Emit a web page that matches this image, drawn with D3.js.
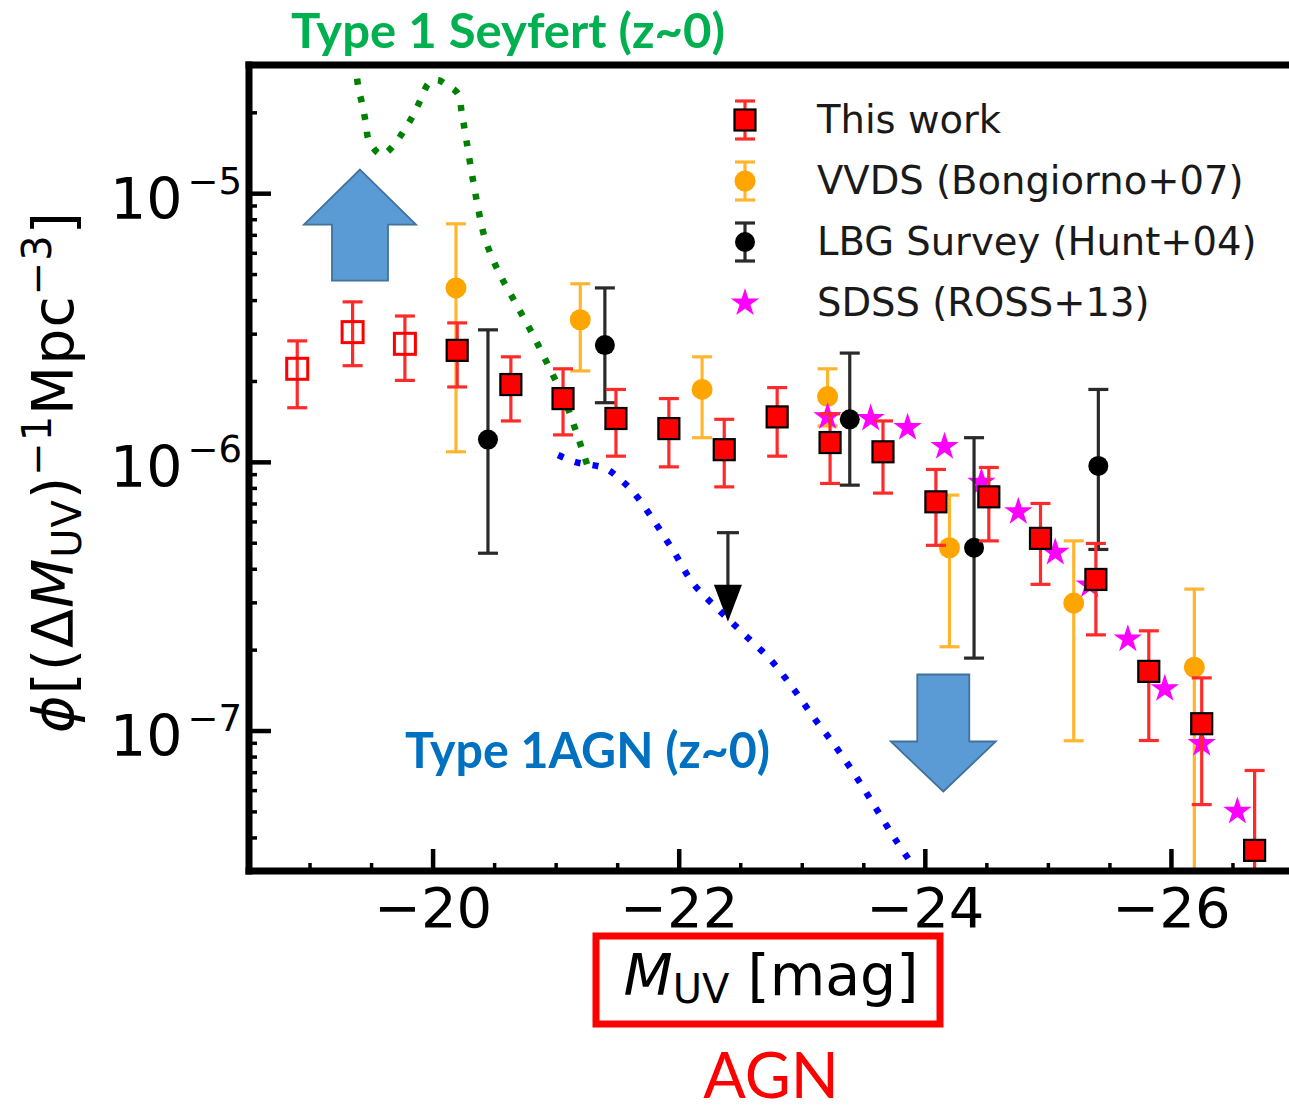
<!DOCTYPE html>
<html><head><meta charset="utf-8">
<script src="https://cdn.jsdelivr.net/npm/d3@7"></script>
<style>body{margin:0;background:#fff;} svg{display:block;}</style>
</head><body><svg id="c" width="1289" height="1112"></svg>
<script>
// ---------------- DATA ----------------
// This work (red squares); first three are open (incomplete) bins
const thisWorkM   = [-18.90,-19.35,-19.775,-20.20,-20.636,-21.06,-21.49,-21.92,-22.37,-22.80,-23.23,-23.66,-24.09,-24.52,-24.94,-25.39,-25.82,-26.25,-26.68];
const thisWorkPhi = [2.22e-6,3.04e-6,2.75e-6,2.60e-6,1.94e-6,1.72e-6,1.45e-6,1.33e-6,1.11e-6,1.47e-6,1.18e-6,1.09e-6,7.10e-7,7.41e-7,5.19e-7,3.65e-7,1.66e-7,1.06e-7,3.58e-8];
const thisWorkHi  = [2.82e-6,3.94e-6,3.49e-6,3.29e-6,2.46e-6,2.22e-6,1.86e-6,1.72e-6,1.44e-6,1.89e-6,1.51e-6,1.42e-6,9.37e-7,9.53e-7,7.00e-7,4.97e-7,2.35e-7,1.57e-7,7.10e-8];
const thisWorkLo  = [1.59e-6,2.28e-6,2.01e-6,1.90e-6,1.42e-6,1.26e-6,1.05e-6,9.58e-7,8.07e-7,1.05e-6,8.31e-7,7.65e-7,4.89e-7,5.08e-7,3.50e-7,2.27e-7,9.18e-8,5.30e-8,1.0e-8];
const thisWorkOpen = [1,1,1,0,0,0,0,0,0,0,0,0,0,0,0,0,0,0,0];

// VVDS (Bongiorno+07)
const vvdsM   = [-20.19,-21.20,-22.19,-23.21,-24.20,-25.21,-26.19];
const vvdsPhi = [4.44e-6,3.38e-6,1.86e-6,1.75e-6,4.79e-7,2.98e-7,1.72e-7];
const vvdsHi  = [7.69e-6,4.60e-6,2.46e-6,2.22e-6,7.52e-7,5.08e-7,3.36e-7];
const vvdsLo  = [1.09e-6,2.18e-6,1.23e-6,1.36e-6,2.05e-7,9.16e-8,1.0e-8];

// LBG Survey (Hunt+04)
const lbgM   = [-20.45,-21.40,-23.39,-24.40,-25.41];
const lbgPhi = [1.21e-6,2.72e-6,1.44e-6,4.79e-7,9.66e-7];
const lbgHi  = [3.10e-6,4.44e-6,2.54e-6,1.23e-6,1.86e-6];
const lbgLo  = [4.57e-7,1.66e-6,8.19e-7,1.86e-7,4.72e-7];
const lbgUpperM = [-22.40];
const lbgUpperPhi = [5.45e-7];
const lbgUpperTip = [2.54e-7];

// SDSS (ROSS+13)
const sdssM   = [-23.21,-23.56,-23.86,-24.16,-24.46,-24.76,-25.06,-25.34,-25.65,-25.95,-26.25,-26.54];
const sdssPhi = [1.47e-6,1.45e-6,1.34e-6,1.14e-6,8.38e-7,6.52e-7,4.60e-7,3.48e-7,2.19e-7,1.43e-7,8.93e-8,5.00e-8];

// Type 1 Seyfert (z~0) curve
const seyfertM   = [-19.373,-19.396,-19.431,-19.458,-19.485,-19.586,-19.680,-19.767,-19.842,-19.905,-19.970,-20.039,-20.114,-20.208,-20.236,-20.262,-20.309,-20.362,-20.425,-20.533,-20.677,-20.817,-20.953,-21.075,-21.178,-21.272];
const seyfertPhi = [3.11e-5,2.48e-5,2.12e-5,1.82e-5,1.56e-5,1.39e-5,1.50e-5,1.71e-5,1.95e-5,2.24e-5,2.57e-5,2.64e-5,2.53e-5,2.34e-5,2.00e-5,1.71e-5,1.26e-5,9.21e-6,6.80e-6,5.13e-6,3.88e-6,2.96e-6,2.22e-6,1.69e-6,1.25e-6,9.27e-7];

// Type 1 AGN (z~0) curve
const agnM   = [-21.020,-21.156,-21.405,-21.522,-21.630,-21.800,-21.963,-22.117,-22.326,-22.537,-22.752,-22.937,-23.108,-23.284,-23.449,-23.606,-23.762,-23.918];
const agnPhi = [1.06e-6,1.00e-6,9.45e-7,8.62e-7,7.73e-7,6.02e-7,4.61e-7,3.53e-7,2.81e-7,2.27e-7,1.82e-7,1.42e-7,1.10e-7,8.60e-8,6.66e-8,5.11e-8,3.92e-8,3.08e-8];

// axis ticks
const xMajorTicks = [-20,-22,-24,-26];
const yMajorTicks = [1e-7,1e-6,1e-5];
const yTickExponents = ["−7","−6","−5"];
const legendLabels = ["This work","VVDS (Bongiorno+07)","LBG Survey (Hunt+04)","SDSS (ROSS+13)"];

// annotation block arrows (tip position in data space)
const blockArrowM = [-19.41,-24.15];
const blockArrowPhi = [1.224e-5,5.93e-8];
const blockArrowDir = ["up","down"];

// ---------------- DRAW ----------------
const svg = d3.select("#c");
const X0 = 248, X1 = 1294, Y0 = 871, Y1 = 65;
const x = d3.scaleLinear().domain([-18.5,-27]).range([X0,X1]);
const y = d3.scaleLog().domain([3e-8,3e-5]).range([Y0,Y1]);

svg.append("defs").append("clipPath").attr("id","pc").append("rect")
  .attr("x",X0+1).attr("y",Y1).attr("width",X1-X0).attr("height",Y0-Y1);

const plot = svg.append("g").attr("clip-path","url(#pc)");

// curves
const lineGen = d3.line().x(d=>x(d[0])).y(d=>y(d[1])).curve(d3.curveCatmullRom.alpha(0.5));
plot.append("path").datum(seyfertM.map((m,i)=>[m,seyfertPhi[i]]))
  .attr("d",lineGen).attr("fill","none").attr("stroke","#008000")
  .attr("stroke-width",6.5).attr("stroke-dasharray","6 12");
plot.append("path").datum(agnM.map((m,i)=>[m,agnPhi[i]]))
  .attr("d",lineGen).attr("fill","none").attr("stroke","#0000ff")
  .attr("stroke-width",6.5).attr("stroke-dasharray","6 12");

function errbars(g, M, P, lo, hi, color, capW, sw){
  const d = M.map((m,i)=>({m, p:P[i], lo:lo[i], hi:hi[i]}));
  g.selectAll(null).data(d).join("line")
    .attr("x1",d=>x(d.m)).attr("x2",d=>x(d.m))
    .attr("y1",d=>y(d.hi)).attr("y2",d=>y(d.lo))
    .attr("stroke",color).attr("stroke-width",sw);
  ["hi","lo"].forEach(k=>{
    g.selectAll(null).data(d).join("line")
      .attr("x1",d=>x(d.m)-capW/2).attr("x2",d=>x(d.m)+capW/2)
      .attr("y1",d=>y(d[k])).attr("y2",d=>y(d[k]))
      .attr("stroke",color).attr("stroke-width",sw);
  });
  return d;
}

// VVDS
const gV = plot.append("g");
const dV = errbars(gV, vvdsM, vvdsPhi, vvdsLo, vvdsHi, "#ffb62e", 20, 3.2);
gV.selectAll(null).data(dV).join("circle").attr("cx",d=>x(d.m)).attr("cy",d=>y(d.p))
  .attr("r",10.5).attr("fill","#ffa500");

// SDSS
const gS = plot.append("g");
const star = d3.symbol().type(d3.symbolStar).size(250);
gS.selectAll(null).data(sdssM.map((m,i)=>({m,p:sdssPhi[i]}))).join("path")
  .attr("d",star).attr("transform",d=>`translate(${x(d.m)},${y(d.p)})`)
  .attr("fill","#ff00ff");

// LBG
const gL = plot.append("g");
const dL = errbars(gL, lbgM, lbgPhi, lbgLo, lbgHi, "#2a2a2a", 20, 3.2);
gL.selectAll(null).data(dL).join("circle").attr("cx",d=>x(d.m)).attr("cy",d=>y(d.p))
  .attr("r",10).attr("fill","#000");
// upper limit
const dU = lbgUpperM.map((m,i)=>({m,p:lbgUpperPhi[i],t:lbgUpperTip[i]}));
gL.selectAll(null).data(dU).join("line")
  .attr("x1",d=>x(d.m)-11).attr("x2",d=>x(d.m)+11).attr("y1",d=>y(d.p)).attr("y2",d=>y(d.p))
  .attr("stroke","#2a2a2a").attr("stroke-width",3.2);
gL.selectAll(null).data(dU).join("line")
  .attr("x1",d=>x(d.m)).attr("x2",d=>x(d.m)).attr("y1",d=>y(d.p)).attr("y2",d=>y(d.t)-30)
  .attr("stroke","#2a2a2a").attr("stroke-width",3.2);
gL.selectAll(null).data(dU).join("path")
  .attr("d",d=>{const cx=x(d.m), ty=y(d.t); return `M${cx-14},${ty-37}L${cx+14},${ty-37}L${cx},${ty}Z`;})
  .attr("fill","#000");

// This work
const gT = plot.append("g");
const dT = errbars(gT, thisWorkM, thisWorkPhi, thisWorkLo, thisWorkHi, "#ff2a2a", 20, 3.2);
dT.forEach((d,i)=>d.open=thisWorkOpen[i]);
gT.selectAll(null).data(dT).join("rect")
  .attr("x",d=>x(d.m)-10.5).attr("y",d=>y(d.p)-10.5)
  .attr("width",21).attr("height",21)
  .attr("fill",d=>d.open?"#fff":"#ff0000")
  .attr("fill-opacity",d=>d.open?0:1)
  .attr("stroke",d=>d.open?"#ff0000":"#000")
  .attr("stroke-width",d=>d.open?3:2.2);

// axes
const gx = svg.append("g").attr("transform",`translate(0,${Y0})`)
  .call(d3.axisBottom(x).tickValues(xMajorTicks).tickSize(-22).tickPadding(16)
        .tickFormat(d=>"−"+Math.abs(d)));
gx.select(".domain").remove();
gx.selectAll(".tick line").attr("stroke","#000").attr("stroke-width",4.5);
gx.selectAll(".tick text").attr("font-family","DejaVu Sans").attr("font-size",56).attr("fill","#000");

const xMinor = d3.range(-19,-27.01,-0.5).filter(v=>Math.abs(v%2)>0.01);
const gxm = svg.append("g").attr("transform",`translate(0,${Y0})`)
  .call(d3.axisBottom(x).tickValues(xMinor).tickSize(-8).tickFormat(""));
gxm.select(".domain").remove();
gxm.selectAll(".tick line").attr("stroke","#000").attr("stroke-width",3.5);

const gy = svg.append("g").attr("transform",`translate(${X0+1},0)`)
  .call(d3.axisLeft(y).tickValues(yMajorTicks).tickSize(-22).tickPadding(7).tickFormat(""));
gy.select(".domain").remove();
gy.selectAll(".tick line").attr("stroke","#000").attr("stroke-width",4.5);
gy.selectAll(".tick text").each(function(d,i){
  const t = d3.select(this).attr("dy",null).attr("y",25)
    .attr("font-family","DejaVu Sans").attr("fill","#000").attr("text-anchor","end");
  t.append("tspan").attr("font-size",57).text("10");
  t.append("tspan").attr("font-size",37).attr("dx",5).attr("dy",-25).text(yTickExponents[i]);
});

const yMinor = [];
[-8,-7,-6,-5].forEach(e=>{for(let k=2;k<=9;k++){const v=k*Math.pow(10,e); if(v>=3e-8&&v<=3e-5) yMinor.push(v);}});
const gym = svg.append("g").attr("transform",`translate(${X0+1},0)`)
  .call(d3.axisLeft(y).tickValues(yMinor).tickSize(-8).tickFormat(""));
gym.select(".domain").remove();
gym.selectAll(".tick line").attr("stroke","#000").attr("stroke-width",3.5);

// spines
const sp = svg.append("g").attr("stroke","#000").attr("stroke-width",7).attr("stroke-linecap","square");
sp.append("line").attr("x1",X0+1).attr("x2",X0+1).attr("y1",Y1).attr("y2",Y0);
sp.append("line").attr("x1",X0+1).attr("x2",1300).attr("y1",Y0).attr("y2",Y0);
sp.append("line").attr("x1",X0+1).attr("x2",1300).attr("y1",Y1).attr("y2",Y1);

// axis labels
const xl = svg.append("text").attr("x",771).attr("y",995).attr("text-anchor","middle")
  .attr("font-family","DejaVu Sans").attr("font-size",57).attr("fill","#000");
xl.append("tspan").attr("font-style","italic").text("M");
xl.append("tspan").attr("font-size",40).attr("dy",8).text("UV");
xl.append("tspan").attr("dy",-8).text(" [mag]");

const yl = svg.append("text").attr("transform","translate(73,472) rotate(-90)")
  .attr("text-anchor","middle").attr("font-family","DejaVu Sans").attr("font-size",57)
  .attr("letter-spacing",1).attr("fill","#000");
yl.append("tspan").attr("font-style","italic").text("ϕ");
yl.append("tspan").text("[(Δ");
yl.append("tspan").attr("font-style","italic").text("M");
yl.append("tspan").attr("font-size",40).attr("dy",8).text("UV");
yl.append("tspan").attr("dy",-8).text(")");
yl.append("tspan").attr("font-size",40).attr("dy",-22).text("−1");
yl.append("tspan").attr("dy",22).text("Mpc");
yl.append("tspan").attr("font-size",40).attr("dy",-22).text("−3");
yl.append("tspan").attr("dy",22).text("]");

// red box and AGN
svg.append("rect").attr("x",596).attr("y",936).attr("width",344).attr("height",88)
  .attr("fill","none").attr("stroke","#ff0000").attr("stroke-width",7);
svg.append("text").attr("x",771).attr("y",1098).attr("text-anchor","middle")
  .attr("font-family","Lato").attr("font-size",63).attr("fill","#ff0000").text("AGN");

// legend
const lg = svg.append("g");
const rowY = i => 120 + i*61, lx = 745;
// this work
lg.append("line").attr("x1",lx).attr("x2",lx).attr("y1",rowY(0)-19).attr("y2",rowY(0)+19).attr("stroke","#ff2a2a").attr("stroke-width",3.2);
[-19,19].forEach(o=>lg.append("line").attr("x1",lx-10).attr("x2",lx+10).attr("y1",rowY(0)+o).attr("y2",rowY(0)+o).attr("stroke","#ff2a2a").attr("stroke-width",3.2));
lg.append("rect").attr("x",lx-10.5).attr("y",rowY(0)-10.5).attr("width",21).attr("height",21).attr("fill","#ff0000").attr("stroke","#000").attr("stroke-width",2.2);
// vvds
lg.append("line").attr("x1",lx).attr("x2",lx).attr("y1",rowY(1)-19).attr("y2",rowY(1)+19).attr("stroke","#ffb62e").attr("stroke-width",3.2);
[-19,19].forEach(o=>lg.append("line").attr("x1",lx-10).attr("x2",lx+10).attr("y1",rowY(1)+o).attr("y2",rowY(1)+o).attr("stroke","#ffb62e").attr("stroke-width",3.2));
lg.append("circle").attr("cx",lx).attr("cy",rowY(1)).attr("r",10.5).attr("fill","#ffa500");
// lbg
lg.append("line").attr("x1",lx).attr("x2",lx).attr("y1",rowY(2)-19).attr("y2",rowY(2)+19).attr("stroke","#2a2a2a").attr("stroke-width",3.2);
[-19,19].forEach(o=>lg.append("line").attr("x1",lx-10).attr("x2",lx+10).attr("y1",rowY(2)+o).attr("y2",rowY(2)+o).attr("stroke","#2a2a2a").attr("stroke-width",3.2));
lg.append("circle").attr("cx",lx).attr("cy",rowY(2)).attr("r",10).attr("fill","#000");
// sdss
lg.append("path").attr("d",star).attr("transform",`translate(${lx},${rowY(3)})`).attr("fill","#ff00ff");
lg.selectAll(null).data(legendLabels).join("text")
  .attr("x",817).attr("y",(d,i)=>rowY(i)+13)
  .attr("font-family","DejaVu Sans").attr("font-size",38.5).attr("fill","#1a1a1a").text(d=>d);

// block arrows
const ba = svg.append("g");
blockArrowM.forEach((m,i)=>{
  const tx = x(m), ty = y(blockArrowPhi[i]);
  let pts;
  if (blockArrowDir[i]==="up") {
    pts = [[0,0],[56,55],[28,55],[28,111],[-28,111],[-28,55],[-56,55]];
  } else {
    pts = [[0,0],[52.5,-50],[26,-50],[26,-117],[-26,-117],[-26,-50],[-52.5,-50]];
  }
  ba.append("path").attr("d","M"+pts.map(p=>[tx+p[0],ty+p[1]].join(",")).join("L")+"Z")
    .attr("fill","#5b9bd5").attr("stroke","#41719c").attr("stroke-width",1.8);
});

// annotation texts
svg.append("text").attr("x",291).attr("y",48).attr("font-family","Lato").attr("font-weight","bold")
  .attr("font-size",48).attr("fill","#00b050").attr("textLength",434).attr("lengthAdjust","spacingAndGlyphs")
  .text("Type 1 Seyfert (z~0)");
svg.append("text").attr("x",405).attr("y",768).attr("font-family","Lato").attr("font-weight","bold")
  .attr("font-size",49).attr("fill","#0070c0").attr("textLength",365).attr("lengthAdjust","spacingAndGlyphs")
  .text("Type 1AGN (z~0)");
</script></body></html>
